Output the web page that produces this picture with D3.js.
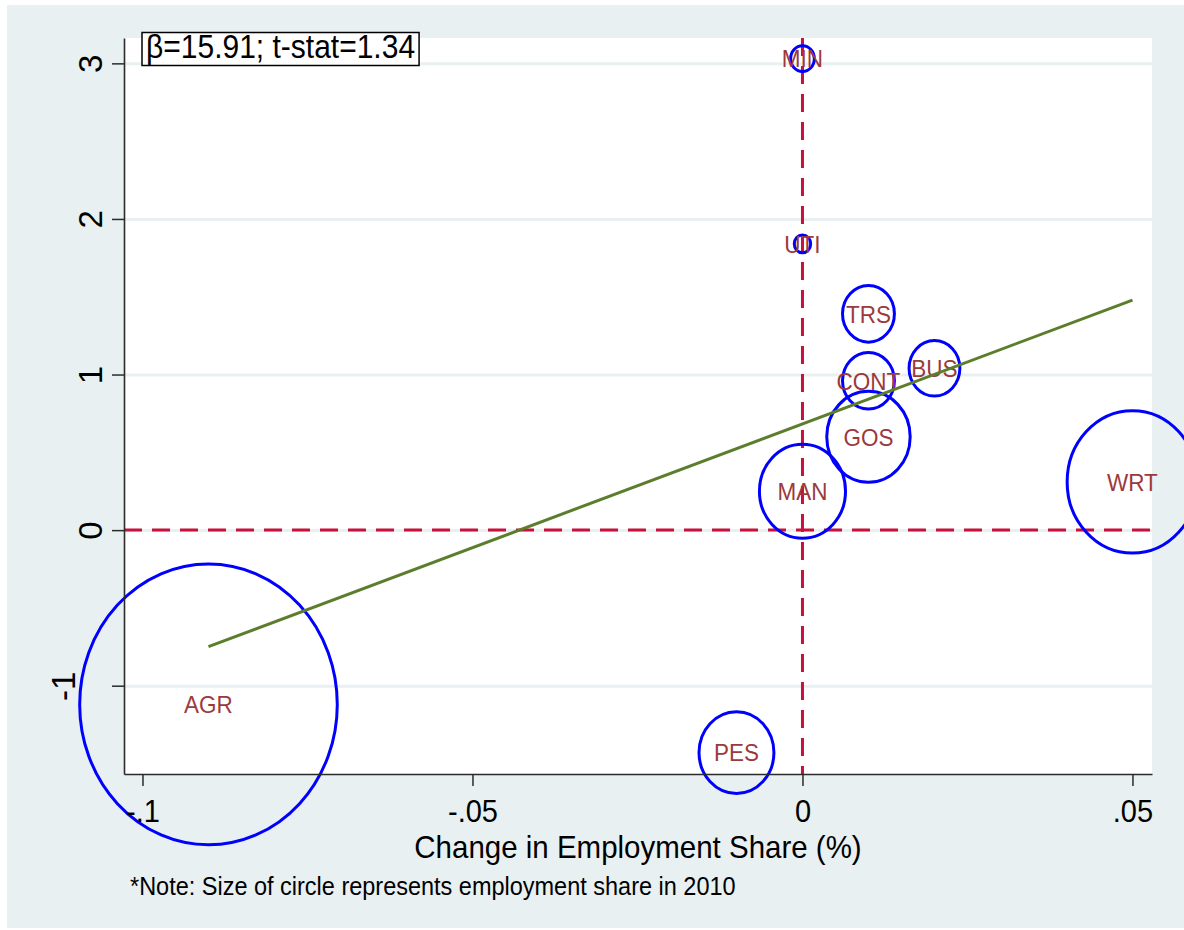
<!DOCTYPE html>
<html>
<head>
<meta charset="utf-8">
<script src="https://cdn.jsdelivr.net/npm/d3@7"></script>
<style>
  body { margin: 0; background: #ffffff; }
  svg { display: block; }
  text { font-family: "Liberation Sans", Arial, Helvetica, sans-serif; }
</style>
</head>
<body>
<svg id="chart" width="1184" height="930"></svg>
<script>
// Sector codes and their values
const sectors = ["MIN", "UTI", "TRS", "CONT", "BUS", "GOS", "MAN", "WRT", "AGR", "PES"];
// Change in employment share (x)
const empShareChange = [0, 0, 0.01, 0.01, 0.02, 0.01, 0, 0.05, -0.09, -0.01];
// Relative labour productivity (y)
const relProductivity = [3.03, 1.84, 1.39, 0.96, 1.04, 0.60, 0.25, 0.31, -1.12, -1.43];
// Employment share in 2010 (%), sets circle size
const empShare2010 = [0.5, 0.24, 2.4, 2.4, 2.3, 6.2, 6.6, 15.2, 59.1, 5.0];

const xTicks = [-0.1, -0.05, 0, 0.05];
const xTickLabels = ["-.1", "-.05", "0", ".05"];
const yTicks = [-1, 0, 1, 2, 3];
const yTickLabels = ["-1", "0", "1", "2", "3"];

// Weighted linear fit
const fitSlope = 15.91;
const fitIntercept = 0.683;
const fitTStat = 1.34;

const svg = d3.select("#chart");
const W = 1184, H = 930;
const plot = { left: 124, top: 38, right: 1152, bottom: 774 };
const textStretch = 1.08;

const x = d3.scaleLinear().domain([-0.1028, 0.05296]).range([plot.left, plot.right]);
const y = d3.scaleLinear().domain([-1.5675, 3.163]).range([plot.bottom, plot.top]);
const r = d3.scaleSqrt().domain([0, d3.max(empShare2010)]).range([0, 128.8]);
const ellipseRatio = 1.09;

const points = sectors.map((s, i) => ({
  name: s, x: empShareChange[i], y: relProductivity[i], w: empShare2010[i]
}));

// Graph region and plot region backgrounds
svg.append("rect").attr("x", 7).attr("y", 5).attr("width", W - 7).attr("height", 923)
  .attr("fill", "#e8f0f2");
svg.append("rect").attr("x", plot.left).attr("y", plot.top)
  .attr("width", plot.right - plot.left).attr("height", plot.bottom - plot.top)
  .attr("fill", "#ffffff");

// Horizontal grid lines
const grid = svg.append("g").attr("transform", `translate(${plot.left},0)`)
  .call(d3.axisLeft(y).tickValues(yTicks).tickSize(-(plot.right - plot.left)).tickFormat(""));
grid.select(".domain").remove();
grid.selectAll("line").attr("stroke", "#e8f0f2").attr("stroke-width", 3);

// Reference lines at zero
const refColor = "#c8103c";
svg.append("line")
  .attr("x1", x(0)).attr("x2", x(0)).attr("y1", plot.top).attr("y2", plot.bottom)
  .attr("stroke", refColor).attr("stroke-width", 3).attr("stroke-dasharray", "18 10");
svg.append("line")
  .attr("x1", plot.left).attr("x2", plot.right).attr("y1", y(0)).attr("y2", y(0))
  .attr("stroke", refColor).attr("stroke-width", 3).attr("stroke-dasharray", "18 10");

// Circles sized by 2010 employment share
svg.append("g").selectAll("ellipse").data(points).join("ellipse")
  .attr("cx", d => x(d.x)).attr("cy", d => y(d.y))
  .attr("rx", d => r(d.w)).attr("ry", d => r(d.w) * ellipseRatio)
  .attr("fill", "none").attr("stroke", "#0000ff").attr("stroke-width", 3);

// Sector labels
svg.append("g").selectAll("text").data(points).join("text")
  .attr("transform", d => `translate(${x(d.x)},${y(d.y)}) scale(1,${textStretch})`)
  .attr("text-anchor", "middle").attr("dy", "0.36em")
  .attr("font-size", 22.5).attr("fill", "#9b3a3d")
  .text(d => d.name);

// Fitted line over the x range of the data
const xr = d3.extent(empShareChange);
svg.append("line")
  .attr("x1", x(xr[0])).attr("y1", y(fitIntercept + fitSlope * xr[0]))
  .attr("x2", x(xr[1])).attr("y2", y(fitIntercept + fitSlope * xr[1]))
  .attr("stroke", "#5b7d2c").attr("stroke-width", 3);

// Y axis
const yAxis = svg.append("g").attr("transform", `translate(${plot.left},0)`)
  .call(d3.axisLeft(y).tickValues(yTicks).tickSize(12).tickSizeOuter(0)
    .tickFormat((d, i) => yTickLabels[i]));
yAxis.select(".domain").attr("stroke", "#2b2b2b").attr("stroke-width", 1.6);
yAxis.selectAll(".tick line").attr("stroke", "#2b2b2b").attr("stroke-width", 1.5);
yAxis.selectAll(".tick text")
  .attr("x", 0).attr("dy", null).attr("text-anchor", "middle")
  .attr("font-size", 33).attr("fill", "#000")
  .attr("transform", d => `translate(${d < 0 ? -49 : -22},0) rotate(-90)`);

// X axis
const xAxis = svg.append("g").attr("transform", `translate(0,${plot.bottom})`)
  .call(d3.axisBottom(x).tickValues(xTicks).tickSize(12).tickSizeOuter(0)
    .tickFormat((d, i) => xTickLabels[i]));
xAxis.select(".domain").attr("stroke", "#2b2b2b").attr("stroke-width", 1.6);
xAxis.selectAll(".tick line").attr("stroke", "#2b2b2b").attr("stroke-width", 1.5);
xAxis.selectAll(".tick text")
  .attr("y", 0).attr("dy", null).attr("text-anchor", "middle")
  .attr("font-size", 29).attr("fill", "#000")
  .attr("transform", `translate(0,48) scale(1,${textStretch})`);

// Axis title
svg.append("text")
  .attr("transform", `translate(${(plot.left + plot.right) / 2},857.5) scale(1,1.04)`)
  .attr("text-anchor", "middle").attr("font-size", 29.5).attr("fill", "#000")
  .text("Change in Employment Share (%)");

// Note
svg.append("text")
  .attr("transform", `translate(130,895) scale(1,${textStretch})`)
  .attr("font-size", 23.5).attr("fill", "#000")
  .text("*Note: Size of circle represents employment share in 2010");

// Slope annotation box
const ann = svg.append("g");
const annBox = ann.append("rect").attr("fill", "#ffffff").attr("stroke", "#000").attr("stroke-width", 1.5);
const annText = ann.append("text")
  .attr("transform", `translate(146,58) scale(1,${textStretch})`)
  .attr("font-size", 30).attr("fill", "#000")
  .text(`β=${fitSlope.toFixed(2)}; t-stat=${fitTStat.toFixed(2)}`);
const tw = annText.node().getComputedTextLength();
annBox.attr("x", 142).attr("y", 32.5).attr("width", tw + 8).attr("height", 33);
</script>
</body>
</html>
